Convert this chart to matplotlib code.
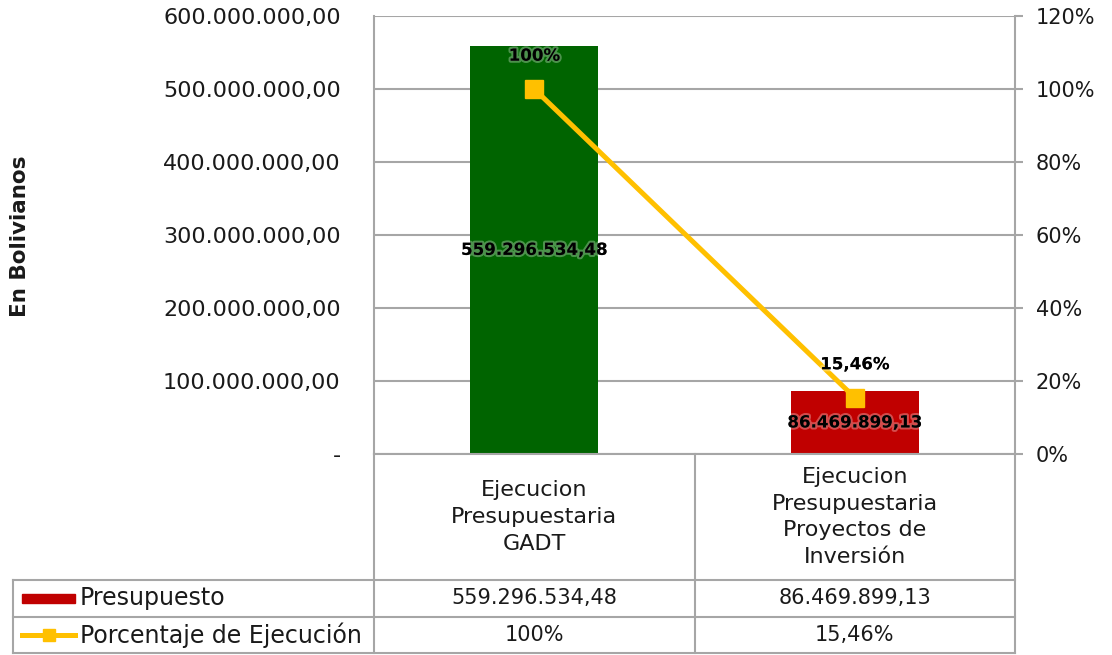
import matplotlib
matplotlib.use('Agg')
import matplotlib.pyplot as plt
from matplotlib.lines import Line2D
from matplotlib.patches import Rectangle
import matplotlib.patheffects as pe
import matplotlib.transforms as mtransforms
from matplotlib.ticker import FuncFormatter

# ---------------- data ----------------
categories = ["Ejecucion\nPresupuestaria\nGADT",
              "Ejecucion\nPresupuestaria\nProyectos de\nInversión"]
presupuesto = [559296534.48, 86469899.13]
porcentaje = [100.0, 15.46]
bar_colors = ["#006400", "#C00000"]
series_names = ["Presupuesto", "Porcentaje de Ejecución"]
y_label = "En Bolivianos"
left_ticks = [0, 100e6, 200e6, 300e6, 400e6, 500e6, 600e6]
right_ticks = [0, 20, 40, 60, 80, 100, 120]

LINE_COLOR = "#FFC000"
GRID = "#A6A6A6"
TXT = "#1A1A1A"

plt.rcParams['font.family'] = ['DejaVu Sans']


def fmt_es(v, dec=2):
    s = f"{v:,.{dec}f}"
    return s.replace(",", "X").replace(".", ",").replace("X", ".")


def fmt_pct(p):
    if abs(p - round(p)) < 1e-9:
        return f"{int(round(p))}%"
    return f"{p:.2f}".replace(".", ",") + "%"


W, H = 1112, 655
fig = plt.figure(figsize=(W / 100, H / 100), dpi=100)


def fx(px):
    return px / W


def fy(py):
    return 1 - py / H


L, R, T, B = 374, 1015, 16, 454
ax = fig.add_axes([fx(L), fy(B), fx(R) - fx(L), fy(T) - fy(B)])
ax2 = ax.twinx()

x = list(range(len(categories)))
ax.bar(x, presupuesto, width=0.4, color=bar_colors, zorder=2)
ax.set_xlim(-0.5, len(categories) - 0.5)
ax.set_ylim(0, 600e6)
ax.set_yticks(left_ticks)
ax.yaxis.set_major_formatter(FuncFormatter(lambda v, p: "-" if v == 0 else fmt_es(v)))
ax.yaxis.grid(True, color=GRID, lw=1.5)
ax.set_axisbelow(True)
ax.tick_params(axis='x', bottom=False, labelbottom=False)
ax.tick_params(axis='y', length=0, pad=24, labelsize=16, labelcolor=TXT)
for s in ['top', 'right']:
    ax.spines[s].set_visible(False)
for s in ['left', 'bottom']:
    ax.spines[s].set_color(GRID)
    ax.spines[s].set_linewidth(1.5)

glow = [pe.withStroke(linewidth=3, foreground=(1, 1, 1, 0.3))]
for i, v in enumerate(presupuesto):
    ax.text(i, v / 2, fmt_es(v), ha='center', va='center', fontsize=12,
            fontweight='bold', color='black', path_effects=glow, zorder=5)

ax2.plot(x, porcentaje, color=LINE_COLOR, lw=3.6, marker='s', markersize=13,
         zorder=3)
ax2.set_ylim(0, 120)
ax2.set_yticks(right_ticks)
ax2.yaxis.set_major_formatter(FuncFormatter(lambda v, p: f"{int(v)}%"))
ax2.tick_params(axis='y', length=6, width=1.5, color=GRID, pad=9,
                labelsize=15, labelcolor=TXT)
for s in ['top', 'left', 'bottom']:
    ax2.spines[s].set_visible(False)
ax2.spines['right'].set_color(GRID)
ax2.spines['right'].set_linewidth(1.5)
for i, p in enumerate(porcentaje):
    ax2.annotate(fmt_pct(p), (i, p), xytext=(0, 24), textcoords='offset points',
                 ha='center', va='center', fontsize=12, fontweight='bold',
                 color='black', path_effects=glow, zorder=6)

# ---------------- data table ----------------
def fline(x0, y0, x1, y1):
    fig.add_artist(Line2D([fx(x0), fx(x1)], [fy(y0), fy(y1)], color=GRID,
                          lw=1.5))

row1, row2, row3 = 580, 617, 653
for vx in (374, 695, 1015):
    fline(vx, B, vx, row3)
fline(13, row1, 13, row3)
for hy in (row1, row2, row3):
    fline(13, hy, 1015, hy)

trans = mtransforms.blended_transform_factory(ax.transData, fig.transFigure)
for i, c in enumerate(categories):
    fig.text(i, fy(517), c, transform=trans, ha='center', va='center',
             fontsize=16, color=TXT, linespacing=1.42)
    fig.text(i, fy(598), fmt_es(presupuesto[i]), transform=trans,
             ha='center', va='center', fontsize=15, color=TXT)
    fig.text(i, fy(635), fmt_pct(porcentaje[i]), transform=trans,
             ha='center', va='center', fontsize=15, color=TXT)

# legend keys
fig.add_artist(Rectangle((fx(22), fy(603)), fx(75) - fx(22), fy(594) - fy(603),
                         color=bar_colors[1]))
fig.add_artist(Line2D([fx(22), fx(75)], [fy(635), fy(635)], color=LINE_COLOR,
                      lw=3.6))
fig.add_artist(Line2D([fx(48.5)], [fy(635)], color=LINE_COLOR, marker='s',
                      markersize=9))
fig.text(fx(80), fy(598), series_names[0], ha='left', va='center',
         fontsize=17, color=TXT)
fig.text(fx(80), fy(635), series_names[1], ha='left', va='center',
         fontsize=17, color=TXT)

fig.text(fx(20), fy(236), y_label, rotation=90, ha='center', va='center',
         fontsize=15.5, fontweight='bold', color=TXT)

fig.savefig("out.png", dpi=100)
